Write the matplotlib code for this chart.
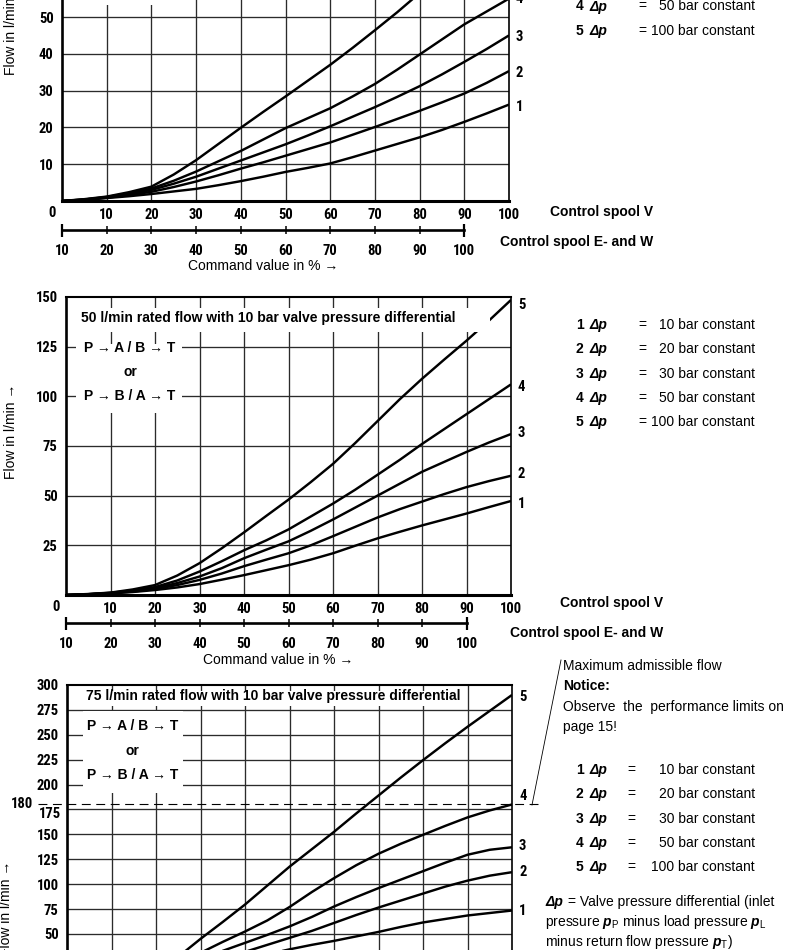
import numpy as np
import matplotlib
matplotlib.use("Agg")
import matplotlib.pyplot as plt
from matplotlib import font_manager
from matplotlib.lines import Line2D
from matplotlib.patches import Rectangle

# command value in % (control spool V scale)
cmd = [0, 5, 10, 15, 20, 25, 30, 35, 40, 45, 50, 55, 60, 65, 70, 75, 80, 85, 90, 95, 100]
ew_ticks = [10, 20, 30, 40, 50, 60, 70, 80, 90, 100]   # control spool E- and W scale
dp_bar = [10, 20, 30, 50, 100]

# flow in l/min, one list per valve pressure differential (1..5)
top_flow = [
    [0, 0.3, 0.8, 1.3, 1.9, 2.6, 3.3, 4.3, 5.4, 6.6, 7.9, 9.0, 10.2, 11.9, 13.7, 15.5, 17.3, 19.3, 21.5, 23.8, 26.2],
    [0, 0.3, 0.9, 1.6, 2.5, 3.8, 5.3, 7.0, 8.8, 10.5, 12.3, 14.1, 15.9, 18.0, 20.1, 22.3, 24.5, 26.8, 29.2, 32.1, 35.3],
    [0, 0.4, 1.0, 1.9, 3.0, 4.7, 6.6, 8.8, 11.0, 13.2, 15.4, 17.8, 20.3, 22.9, 25.5, 28.3, 31.2, 34.4, 37.8, 41.3, 45.0],
    [0, 0.4, 1.1, 2.1, 3.4, 5.5, 8.0, 10.8, 13.6, 16.7, 19.8, 22.5, 25.2, 28.4, 31.8, 35.7, 39.8, 43.9, 48.0, 51.5, 55.0],
    [0, 0.5, 1.2, 2.4, 3.9, 7.2, 11.1, 15.5, 19.9, 24.2, 28.4, 32.7, 37.0, 41.6, 46.4, 51.3, 56.5],
]
mid_flow = [
    [0, 0.3, 0.8, 1.5, 2.5, 3.8, 5.5, 7.7, 10.0, 12.5, 15.0, 17.8, 21.0, 24.8, 28.5, 31.8, 35.0, 38.0, 41.0, 44.2, 47.3],
    [0, 0.3, 0.9, 1.7, 3.0, 5.0, 7.6, 10.8, 14.5, 17.8, 21.0, 25.0, 29.6, 34.3, 39.0, 43.2, 47.0, 50.8, 54.3, 57.3, 60.0],
    [0, 0.4, 1.0, 2.0, 3.5, 6.0, 9.3, 13.5, 18.5, 22.8, 27.0, 32.3, 38.0, 44.0, 50.0, 56.0, 62.0, 67.0, 72.0, 76.7, 81.0],
    [0, 0.4, 1.1, 2.3, 4.0, 7.3, 11.8, 17.0, 22.5, 27.5, 33.0, 39.5, 46.0, 53.0, 60.5, 68.0, 76.0, 83.5, 91.0, 98.5, 106.0],
    [0, 0.5, 1.2, 2.8, 5.0, 9.8, 16.0, 23.5, 31.5, 39.8, 48.0, 56.8, 66.0, 76.5, 87.5, 98.5, 108.8, 118.5, 128.0, 138.0, 148.5],
]
bot_flow = [
    [0, 0.3, 1.2, 3.0, 6.0, 10.0, 14.5, 19.5, 24.5, 29.5, 34.5, 39.0, 43.0, 47.5, 52.0, 57.0, 61.5, 65.0, 68.5, 71.0, 73.5],
    [0, 0.4, 1.4, 3.5, 7.0, 12.0, 18.5, 25.0, 32.0, 39.0, 46.0, 53.0, 61.0, 69.0, 76.5, 83.5, 90.5, 97.5, 103.5, 108.5, 112.0],
    [0, 0.5, 1.6, 4.0, 8.5, 15.5, 24.0, 33.0, 41.0, 49.0, 57.5, 67.0, 77.5, 87.0, 96.0, 104.5, 113.0, 121.5, 129.5, 134.5, 137.0],
    [0, 0.6, 2.0, 4.5, 10.0, 19.0, 31.0, 42.0, 52.4, 63.5, 77.0, 92.0, 106.0, 119.0, 130.5, 140.5, 149.5, 158.5, 167.0, 174.0, 180.0],
    [0, 0.8, 2.5, 6.0, 13.0, 27.0, 45.0, 62.0, 79.5, 98.5, 117.5, 135.0, 152.5, 171.0, 189.0, 207.0, 224.5, 241.5, 258.0, 274.0, 290.0],
]
max_flow = 180

W, H = 790, 950
fig = plt.figure(figsize=(W / 100, H / 100), dpi=100)
fig.patch.set_facecolor("white")

names = {f.name for f in font_manager.fontManager.ttflist}
NARROW = None
for cand in ["Liberation Sans Narrow", "Arial Narrow", "Roboto Condensed"]:
    if cand in names:
        NARROW = cand
        break
REG = ["Liberation Sans", "DejaVu Sans"]
NUM = dict(family=[NARROW or "Liberation Sans", "DejaVu Sans"], weight="bold",
           size=10.5 if NARROW else 9)
BOLD = dict(family=REG, weight="bold", size=10)
TXT = dict(family=REG, size=10)

plt.rcParams["mathtext.fontset"] = "custom"
plt.rcParams["mathtext.rm"] = "Liberation Sans"
plt.rcParams["mathtext.it"] = "Liberation Sans:italic"
plt.rcParams["mathtext.bf"] = "Liberation Sans:bold"
BFIT = r"\mathbf"
if "mathtext.bfit" in plt.rcParams:
    plt.rcParams["mathtext.bfit"] = "Liberation Sans:italic:bold"
    BFIT = r"\mathbfit"

GRID = "#2b2b2b"
PT = 0.72  # points per pixel at 100 dpi


def ftext(x, y, s, **kw):
    kw.setdefault("va", "center")
    return fig.text(x / W, 1 - y / H, s, **kw)


def panel(left, right, y0, ppu, ymax, yticks, flows, lab_dy, ylabels=None, xlabels=True):
    top = y0 - ymax * ppu
    ax = fig.add_axes([left / W, 1 - y0 / H, (right - left) / W, (y0 - top) / H])
    ax.set_xlim(0, 100)
    ax.set_ylim(0, ymax)
    ax.set_xticks(range(0, 101, 10))
    if xlabels:
        ax.set_xticklabels([""] + [str(v) for v in range(10, 101, 10)], **NUM)
        ax.annotate("0", xy=(0, 0), xytext=(-10 * PT, -12 * PT), textcoords="offset points",
                    ha="center", va="center", annotation_clip=False, **NUM)
    else:
        ax.set_xticklabels([])   # scale lies below the cut of the page
    ax.set_yticks(yticks)
    if ylabels is None:
        ylabels = [str(v) for v in yticks]
    ax.set_yticklabels(ylabels, **NUM)
    ax.tick_params(axis="x", length=0, pad=5)
    ax.tick_params(axis="y", length=0, pad=6)
    for v in range(10, 100, 10):
        ax.axvline(v, color=GRID, lw=0.95, zorder=1)
    for v in yticks:
        if 0 < v < ymax:
            ax.axhline(v, color=GRID, lw=0.95, zorder=1)
    for i, fl in enumerate(flows):
        ax.plot(cmd[:len(fl)], fl, color="black", lw=1.75, zorder=2,
                solid_capstyle="butt", solid_joinstyle="round")
        if len(fl) == len(cmd):
            ax.annotate(str(i + 1), xy=(100, fl[-1]),
                        xytext=(7 * PT, lab_dy[i] * PT), textcoords="offset points",
                        ha="left", va="center", annotation_clip=False, **NUM)
    for side, lw in [("left", 1.9), ("bottom", 2.2), ("right", 1.2), ("top", 1.5)]:
        ax.spines[side].set_linewidth(lw)
        ax.spines[side].set_zorder(5)
    return ax


def ew_axis(left, right, y):
    ax2 = fig.add_axes([left / W, 1 - (y + 1) / H, (right - left) / W, 2 / H])
    ax2.set_xlim(10, 110)
    ax2.patch.set_visible(False)
    for s in ["top", "left", "right"]:
        ax2.spines[s].set_visible(False)
    ax2.spines["bottom"].set_bounds(10, 100)
    ax2.spines["bottom"].set_linewidth(1.9)
    ax2.set_yticks([])
    ax2.set_xticks(ew_ticks)
    ax2.set_xticklabels([str(v) for v in ew_ticks], **NUM)
    ax2.xaxis.remove_overlapping_locs = False
    ax2.set_xticks([10, 100], minor=True)
    ax2.tick_params(axis="x", which="major", direction="inout", length=8 * PT,
                    width=1.1, pad=7)
    ax2.tick_params(axis="x", which="minor", direction="inout", length=13 * PT, width=1.6)
    return ax2


def white_box(ax, x0, x1, y0, y1):
    ax.add_patch(Rectangle((x0, y0), x1 - x0, y1 - y0, facecolor="white",
                           edgecolor="none", zorder=3))


def path_text(ax, x, ys):
    for s, yy in zip(["P \u2192 A / B \u2192 T", "or", "P \u2192 B / A \u2192 T"], ys):
        ax.text(x, yy, s, ha="center", va="center", zorder=4, **BOLD)


def legend_rows(y_first, x_eq, first=0):
    for i, v in enumerate(dp_bar):
        if i < first:
            continue
        y = y_first + 24.3 * i
        ftext(576, y, str(i + 1), ha="left", **BOLD)
        ftext(589, y, "\u0394p", ha="left", style="italic", **BOLD)
        ftext(x_eq, y, "=", ha="center", **TXT)
        ftext(755, y, f"{v} bar constant", ha="right", **TXT)


# ---------------- top diagram (cut off at the top of the page) ----------------
ty = [10, 20, 30, 40, 50, 60, 70]
ax1 = panel(62, 509, 201, 3.68, 80, ty, top_flow, [-2, -2, -2, 0, 0],
            ylabels=[str(v) if v <= 50 else "" for v in ty])
white_box(ax1, 2.2, 26, 53.3, 80)
ew_axis(62, 509, 229)
ftext(263, 266, "Command value in % \u2192", ha="center", **TXT)
ftext(653, 212, "Control spool V", ha="right", **BOLD)
ftext(653, 242, "Control spool E- and W", ha="right", **BOLD)
ftext(11, 27, "Flow in l/min \u2192", ha="center", rotation=90, **TXT)
legend_rows(8 - 3 * 24.8, 642, first=3)

# ---------------- middle diagram: 50 l/min ----------------
ax2 = panel(66, 511, 595, 1.987, 150, [25, 50, 75, 100, 125, 150], mid_flow, [-3, 2, 1, -3, -5])
white_box(ax2, 2.7, 95.3, 132.4, 144.4)
ax2.text(45.4, 139.6, "50 l/min rated flow with 10 bar valve pressure differential",
         ha="center", va="center", zorder=4, **BOLD)
white_box(ax2, 2.2, 26, 91.6, 126.5)
path_text(ax2, 14.4, [124.3, 112.0, 100.2])
ew_axis(66, 511, 622)
ftext(278, 660, "Command value in % \u2192", ha="center", **TXT)
ftext(663, 603, "Control spool V", ha="right", **BOLD)
ftext(663, 633, "Control spool E- and W", ha="right", **BOLD)
ftext(11, 431, "Flow in l/min \u2192", ha="center", rotation=90, **TXT)
legend_rows(325, 642)

# ---------------- bottom diagram: 75 l/min (cut off at the bottom) ----------------
byt = [50, 75, 100, 125, 150, 175, 200, 225, 250, 275, 300]
ax3 = panel(67, 512, 983.7, 0.9957, 300, byt, bot_flow, [0, 0, 1, 8, -2],
            ylabels=["" if v == 175 else str(v) for v in byt], xlabels=False)
ax3.axhline(25, color=GRID, lw=0.95, zorder=1)
ax3.annotate("175", xy=(0, 175), xytext=(-6 * PT, -5 * PT), textcoords="offset points",
             ha="right", va="center", annotation_clip=False, **NUM)
ax3.annotate("180", xy=(0, max_flow), xytext=(-34 * PT, 0), textcoords="offset points",
             ha="right", va="center", annotation_clip=False, **NUM)
ax3.plot([-0.065, 1.067], [max_flow, max_flow], transform=ax3.get_yaxis_transform(),
         color="black", lw=0.8, dashes=(8, 5), clip_on=False, zorder=2)
white_box(ax3, 2.9, 88.8, 279, 294)
ax3.text(46.3, 288.8, "75 l/min rated flow with 10 bar valve pressure differential",
         ha="center", va="center", zorder=4, **BOLD)
white_box(ax3, 3.6, 26, 192, 273.5)
path_text(ax3, 14.8, [258.5, 234.0, 210.0])
fig.add_artist(Line2D([532 / W, 561 / W], [1 - 805 / H, 1 - 660 / H], color="black", lw=0.6))
ftext(6, 908, "Flow in l/min \u2192", ha="center", rotation=90, **TXT)

ftext(563, 666, "Maximum admissible flow", ha="left", **TXT)
ftext(563, 686, "Notice:", ha="left", **BOLD)
ftext(563, 707, "Observe  the  performance limits on", ha="left", **TXT)
ftext(563, 727, "page 15!", ha="left", **TXT)
legend_rows(770, 631)

ftext(545, 902, "\u0394p", ha="left", style="italic", **BOLD)
ftext(568, 902, "= Valve pressure differential (inlet", ha="left", **TXT)
ftext(545, 922, rf"pressure ${BFIT}{{p}}_\mathrm{{P}}$ minus load pressure ${BFIT}{{p}}_\mathrm{{L}}$",
      ha="left", **TXT)
ftext(545, 942, rf"minus return flow pressure ${BFIT}{{p}}_\mathrm{{T}}$)", ha="left", **TXT)

fig.savefig("out.png", dpi=100, facecolor="white")
